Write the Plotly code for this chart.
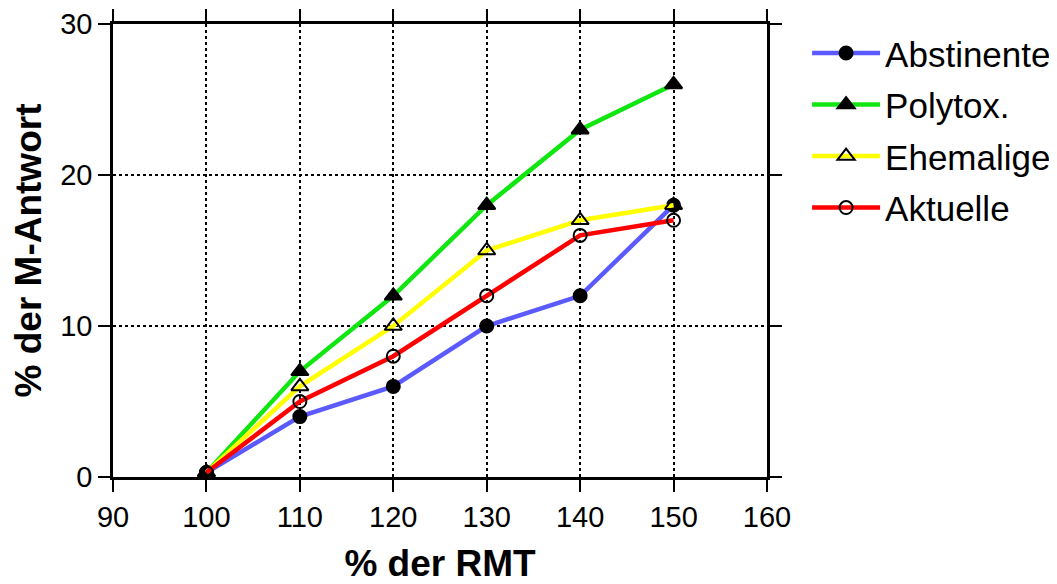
import plotly.graph_objects as go

x_vals = [100, 110, 120, 130, 140, 150]
abstinente = [0.3, 4, 6, 10, 12, 18]
polytox = [0.3, 7, 12, 18, 23, 26]
ehemalige = [0.3, 6, 10, 15, 17, 18]
aktuelle = [0.3, 5, 8, 12, 16, 17]

x_ticks = [90, 100, 110, 120, 130, 140, 150, 160]
y_ticks = [0, 10, 20, 30]

series = [
    ("Abstinente", abstinente, "#5a5aff", "circle", 13),
    ("Polytox.", polytox, "#10e610", "triangle-up", 15),
    ("Ehemalige", ehemalige, "#ffff00", "triangle-up-open", 15),
    ("Aktuelle", aktuelle, "#ff0000", "circle-open", 13),
]

fig = go.Figure()
for name, vals, col, sym, sz in series:
    fig.add_trace(go.Scatter(
        x=x_vals, y=vals, name=name, mode="lines+markers",
        legendgroup=name,
        line=dict(color=col, width=4.5),
        marker=dict(symbol=sym, size=sz, color="black",
                    line=dict(color="black", width=2)),
    ))

font = "Liberation Sans, Arial, sans-serif"
axis_common = dict(showline=True, linewidth=2.5, linecolor="black", mirror="ticks",
                   ticks="outside", ticklen=12, tickwidth=2, tickcolor="black",
                   showgrid=True, gridcolor="black", griddash="3px,3px", gridwidth=1.8,
                   zeroline=False, automargin=False, tickfont=dict(size=29))
fig.update_layout(
    width=1057, height=584,
    margin=dict(l=105, r=298, t=16, b=115),
    paper_bgcolor="white", plot_bgcolor="white",
    font=dict(family=font, color="black", size=29),
    showlegend=True,
    legend=dict(xref="container", yref="container", x=0.756, y=0.973,
                xanchor="left", yanchor="top",
                font=dict(size=35), tracegroupgap=3, itemwidth=68,
                bgcolor="rgba(0,0,0,0)"),
    xaxis=dict(range=[90, 160], tickvals=x_ticks, **axis_common,
               title=dict(text="<b>% der RMT</b>", font=dict(size=37), standoff=19)),
    yaxis=dict(range=[0, 30], tickvals=y_ticks, **axis_common,
               title=dict(text="<b>% der M-Antwort</b>", font=dict(size=37), standoff=14)),
)

fig.write_html("out.html")
